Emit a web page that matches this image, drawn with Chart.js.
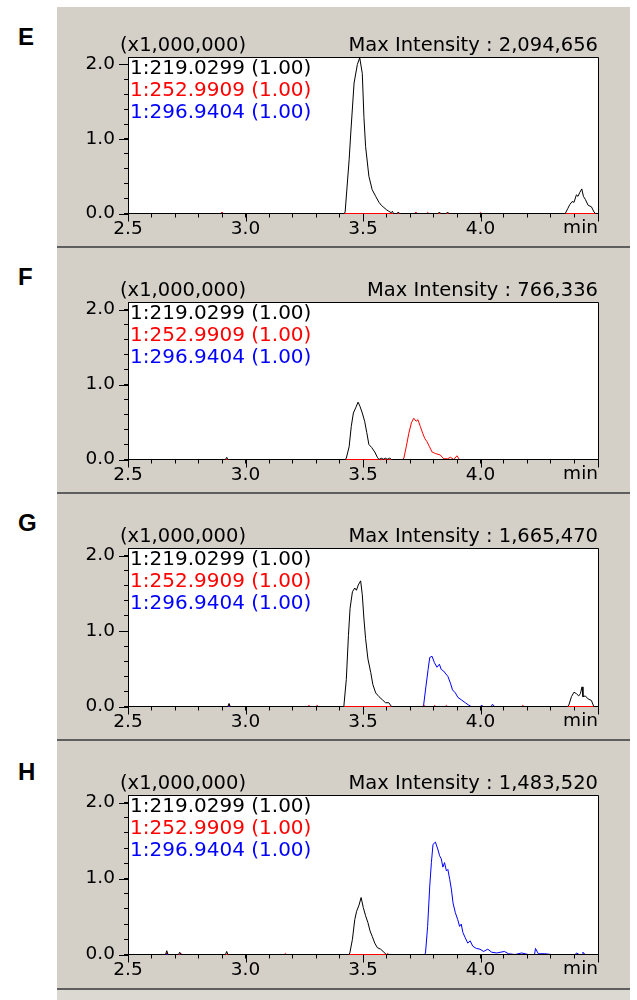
<!DOCTYPE html>
<html>
<head>
<meta charset="utf-8">
<script src="https://cdn.jsdelivr.net/npm/chart.js@4.4.0/dist/chart.umd.min.js"></script>
<style>
  body { margin: 0; background: #fff; width: 637px; height: 1000px; position: relative; overflow: hidden; }
  .panel { position: absolute; left: 57px; width: 573px; background: #d4d0c8; border-bottom: 2px solid #5e5e5e; }
  .panel canvas { display: block; }
  .tag { position: absolute; left: 18px; font: bold 24px "Liberation Sans", Arial, sans-serif; line-height: 24px; color: #000; }
  .foot { position: absolute; left: 57px; width: 573px; top: 990px; height: 10px; background: #dcd9d2; }
</style>
</head>
<body>
<div class="foot"></div>
<script>
// x = retention time (min), y = intensity (x1,000,000)
const xMin = 2.5;
const xMax = 4.5;
const yMin = 0;
const yMax = 2.1;
const scaleNote = "(x1,000,000)";
const xUnit = "min";
const legendLabels = ["1:219.0299 (1.00)", "1:252.9909 (1.00)", "1:296.9404 (1.00)"];
const legendColors = ["#000000", "#ff0000", "#0000ff"];

// panel E
const eBlack = [[2.5,0],[3.42,0],[3.424,0.02],[3.441,0.72],[3.448,1.08],[3.462,1.75],[3.476,2.0],[3.486,2.09],[3.497,1.88],[3.504,1.29],[3.511,0.9],[3.525,0.5],[3.539,0.32],[3.554,0.23],[3.568,0.15],[3.578,0.11],[3.589,0.08],[3.6,0.05],[3.61,0.03],[3.62,0.01],[3.625,0.03],[3.63,0],[3.645,0],[3.65,0.02],[3.655,0],[3.82,0],[3.825,0.02],[3.83,0],[3.855,0],[3.86,0.02],[3.865,0],[4.36,0],[4.364,0.02],[4.372,0.07],[4.38,0.12],[4.39,0.16],[4.398,0.15],[4.408,0.25],[4.415,0.23],[4.422,0.28],[4.431,0.33],[4.438,0.23],[4.446,0.19],[4.458,0.11],[4.472,0.09],[4.483,0.02],[4.49,0],[4.5,0]];
const eRed = [[2.5,0],[2.895,0],[2.9,0.02],[2.905,0],[3.72,0],[3.725,0.02],[3.73,0],[3.77,0],[3.775,0.015],[3.78,0],[3.995,0],[4.0,0.015],[4.005,0],[4.5,0]];
const eBlue = [[2.5,0],[4.5,0]];

// panel F
const fBlack = [[2.5,0],[2.915,0],[2.92,0.03],[2.925,0],[3.425,0],[3.429,0.02],[3.441,0.17],[3.45,0.44],[3.459,0.62],[3.469,0.69],[3.479,0.765],[3.487,0.71],[3.497,0.62],[3.507,0.51],[3.516,0.36],[3.525,0.2],[3.537,0.16],[3.55,0.1],[3.561,0.03],[3.568,0],[3.58,0.02],[3.585,0],[3.597,0.02],[3.602,0],[3.614,0.02],[3.62,0],[4.5,0]];
const fRed = [[2.5,0],[3.67,0],[3.674,0.02],[3.684,0.17],[3.695,0.35],[3.706,0.49],[3.716,0.55],[3.726,0.51],[3.734,0.53],[3.744,0.44],[3.754,0.35],[3.763,0.28],[3.772,0.24],[3.783,0.17],[3.794,0.1],[3.808,0.08],[3.829,0.06],[3.843,0.01],[3.86,0.01],[3.872,0.03],[3.886,0],[3.9,0.05],[3.91,0],[4.5,0]];
const fBlue = [[2.5,0],[4.5,0]];

// panel G
const gBlack = [[2.5,0],[2.925,0],[2.93,0.04],[2.935,0],[3.415,0],[3.419,0.02],[3.429,0.36],[3.438,0.94],[3.445,1.3],[3.455,1.52],[3.465,1.57],[3.472,1.54],[3.48,1.61],[3.49,1.665],[3.497,1.48],[3.504,1.16],[3.511,0.9],[3.521,0.63],[3.533,0.45],[3.542,0.29],[3.554,0.18],[3.568,0.13],[3.582,0.09],[3.596,0.05],[3.61,0.05],[3.621,0],[4.37,0],[4.376,0.02],[4.387,0.13],[4.398,0.19],[4.408,0.17],[4.418,0.14],[4.425,0.17],[4.432,0.26],[4.436,0.13],[4.446,0.14],[4.458,0.1],[4.472,0.08],[4.482,0],[4.5,0]];
const gRed = [[2.5,0],[2.925,0],[2.93,0.02],[2.935,0],[3.265,0],[3.27,0.015],[3.275,0],[3.3,0],[3.305,0.015],[3.31,0],[3.755,0],[3.76,0.015],[3.765,0],[3.8,0],[3.805,0.015],[3.81,0],[3.85,0],[3.855,0.015],[3.86,0],[4.175,0],[4.18,0.015],[4.185,0],[4.5,0]];
const gBlue = [[2.5,0],[3.755,0],[3.758,0.02],[3.768,0.27],[3.777,0.49],[3.784,0.65],[3.794,0.665],[3.804,0.58],[3.815,0.52],[3.825,0.56],[3.833,0.49],[3.843,0.47],[3.853,0.43],[3.861,0.4],[3.872,0.31],[3.881,0.22],[3.893,0.18],[3.904,0.12],[3.918,0.09],[3.935,0.05],[3.949,0.02],[3.96,0],[4.0,0],[4.005,0.02],[4.01,0],[4.045,0],[4.051,0.03],[4.06,0],[4.5,0]];

// panel H
const hBlack = [[2.5,0],[2.66,0],[2.665,0.05],[2.67,0],[2.715,0],[2.72,0.03],[2.725,0],[2.915,0],[2.92,0.04],[2.925,0],[3.44,0],[3.444,0.02],[3.455,0.2],[3.465,0.46],[3.473,0.57],[3.483,0.65],[3.492,0.75],[3.501,0.62],[3.511,0.51],[3.521,0.42],[3.53,0.31],[3.539,0.24],[3.55,0.15],[3.561,0.09],[3.575,0.07],[3.589,0.03],[3.599,0],[4.5,0]];
const hRed = [[2.5,0],[2.66,0],[2.665,0.02],[2.67,0],[2.72,0],[2.725,0.015],[2.73,0],[3.165,0],[3.17,0.015],[3.175,0],[3.6,0],[3.605,0.015],[3.61,0],[4.5,0]];
const hBlue = [[2.5,0],[3.762,0],[3.766,0.02],[3.775,0.37],[3.784,0.9],[3.791,1.21],[3.798,1.45],[3.808,1.48],[3.818,1.39],[3.826,1.3],[3.833,1.26],[3.84,1.15],[3.847,1.21],[3.855,1.1],[3.861,1.12],[3.869,0.99],[3.876,0.86],[3.883,0.68],[3.893,0.55],[3.903,0.46],[3.911,0.37],[3.918,0.4],[3.925,0.29],[3.935,0.22],[3.946,0.15],[3.956,0.18],[3.967,0.11],[3.982,0.08],[3.998,0.07],[4.013,0.04],[4.031,0.07],[4.048,0.03],[4.069,0.02],[4.102,0.04],[4.119,0.01],[4.147,0],[4.175,0.02],[4.203,0],[4.23,0],[4.234,0.08],[4.246,0.01],[4.274,0.01],[4.302,0],[4.404,0],[4.408,0.02],[4.42,0],[4.432,0],[4.436,0.03],[4.445,0],[4.5,0]];

const panels = [
  { tag: "E", top: 7,   height: 239, plotTop: 50, plotBottom: 207, intensity: "2,094,656", tagTop: 25,  series: [eBlack, eRed, eBlue] },
  { tag: "F", top: 248, height: 244, plotTop: 54, plotBottom: 212, intensity: "766,336",   tagTop: 265, series: [fBlack, fRed, fBlue] },
  { tag: "G", top: 494, height: 245, plotTop: 54, plotBottom: 213, intensity: "1,665,470", tagTop: 511, series: [gBlack, gRed, gBlue] },
  { tag: "H", top: 741, height: 247, plotTop: 54, plotBottom: 214, intensity: "1,483,520", tagTop: 760, series: [hBlack, hRed, hBlue] }
];

function isMajor(v, step) {
  const r = v / step;
  return Math.abs(r - Math.round(r)) < 1e-6;
}

const chromPlugin = {
  id: "chrom",
  beforeDraw(chart) {
    const { ctx, chartArea: a } = chart;
    ctx.save();
    ctx.fillStyle = "#ffffff";
    ctx.fillRect(a.left, a.top, a.right - a.left, a.bottom - a.top);
    ctx.restore();
  },
  afterDraw(chart, args, opts) {
    const { ctx, chartArea: a, scales } = chart;
    ctx.save();
    ctx.strokeStyle = "#000";
    ctx.lineWidth = 1;
    // top and right frame lines (left/bottom are the axes)
    const l = Math.round(a.left), r = Math.round(a.right) + 0.5, t = Math.round(a.top) + 0.5, b = Math.round(a.bottom);
    ctx.beginPath();
    ctx.moveTo(l, t);
    ctx.lineTo(r, t);
    ctx.lineTo(r, b);
    ctx.stroke();

    // longer marks on the labelled ticks
    ctx.beginPath();
    scales.x.ticks.forEach(tk => {
      if (isMajor(tk.value, 0.5)) {
        const px = Math.round(scales.x.getPixelForValue(tk.value)) + 0.5;
        ctx.moveTo(px, a.bottom);
        ctx.lineTo(px, a.bottom + 8);
      }
    });
    scales.y.ticks.forEach(tk => {
      if (isMajor(tk.value, 1)) {
        const py = Math.round(scales.y.getPixelForValue(tk.value)) + 0.5;
        ctx.moveTo(a.left, py);
        ctx.lineTo(a.left - 9, py);
      }
    });
    ctx.stroke();

    ctx.fillStyle = "#000";
    ctx.textBaseline = "middle";
    ctx.font = '19.5px "DejaVu Sans"';
    ctx.textAlign = "left";
    ctx.fillText(scaleNote, a.left - 8, a.top - 11);
    ctx.textAlign = "right";
    ctx.fillText("Max Intensity : " + opts.intensity, a.right, a.top - 11);

    ctx.font = '18.5px "DejaVu Sans"';
    ctx.fillText(xUnit, a.right, a.bottom + 15);

    ctx.font = '20px "DejaVu Sans"';
    ctx.textAlign = "left";
    legendLabels.forEach((s, i) => {
      ctx.fillStyle = legendColors[i];
      ctx.fillText(s, a.left + 2, a.top + 12 + 22 * i);
    });
    ctx.restore();
  }
};

const tickFont = { family: "DejaVu Sans", size: 18.5, lineHeight: 1 };

panels.forEach(p => {
  const tag = document.createElement("div");
  tag.className = "tag";
  tag.style.top = p.tagTop + "px";
  tag.textContent = p.tag;
  document.body.appendChild(tag);

  const wrap = document.createElement("div");
  wrap.className = "panel";
  wrap.style.top = p.top + "px";
  const canvas = document.createElement("canvas");
  canvas.width = 573;
  canvas.height = p.height;
  wrap.appendChild(canvas);
  document.body.appendChild(wrap);

  const toXY = arr => arr.map(d => ({ x: d[0], y: d[1] }));

  new Chart(canvas, {
    type: "line",
    data: {
      datasets: [
        { label: legendLabels[0], data: toXY(p.series[0]), borderColor: legendColors[0], clip: false },
        { label: legendLabels[1], data: toXY(p.series[1]), borderColor: legendColors[1], clip: false },
        { label: legendLabels[2], data: toXY(p.series[2]), borderColor: legendColors[2], clip: false }
      ]
    },
    options: {
      responsive: false,
      animation: false,
      events: [],
      layout: { padding: { top: p.plotTop, right: 32, left: 0, bottom: 0 } },
      elements: { point: { radius: 0 }, line: { borderWidth: 1, tension: 0 } },
      plugins: {
        legend: { display: false },
        tooltip: { enabled: false },
        chrom: { intensity: p.intensity }
      },
      scales: {
        x: {
          type: "linear",
          min: xMin,
          max: xMax,
          // half-pixel offset so the zero line sits on one pixel row
          afterFit: s => { s.height = p.height - p.plotBottom + 0.5; },
          border: { color: "#000", width: 1 },
          grid: { drawOnChartArea: false, tickLength: 4, tickColor: "#000" },
          ticks: {
            stepSize: 0.1,
            includeBounds: false,
            autoSkip: false,
            maxRotation: 0,
            minRotation: 0,
            padding: 2,
            color: "#000",
            font: tickFont,
            callback: v => (isMajor(v, 0.5) && v < 4.45 ? v.toFixed(1) : "")
          }
        },
        y: {
          min: yMin,
          max: yMax,
          afterFit: s => { s.width = 71; },
          border: { color: "#000", width: 1 },
          grid: { drawOnChartArea: false, tickLength: 4, tickColor: "#000" },
          ticks: {
            stepSize: 0.2,
            includeBounds: false,
            autoSkip: false,
            padding: 9,
            color: "#000",
            font: tickFont,
            callback: v => (isMajor(v, 1) ? v.toFixed(1) : "")
          }
        }
      }
    },
    plugins: [chromPlugin]
  });
});
</script>
</body>
</html>
